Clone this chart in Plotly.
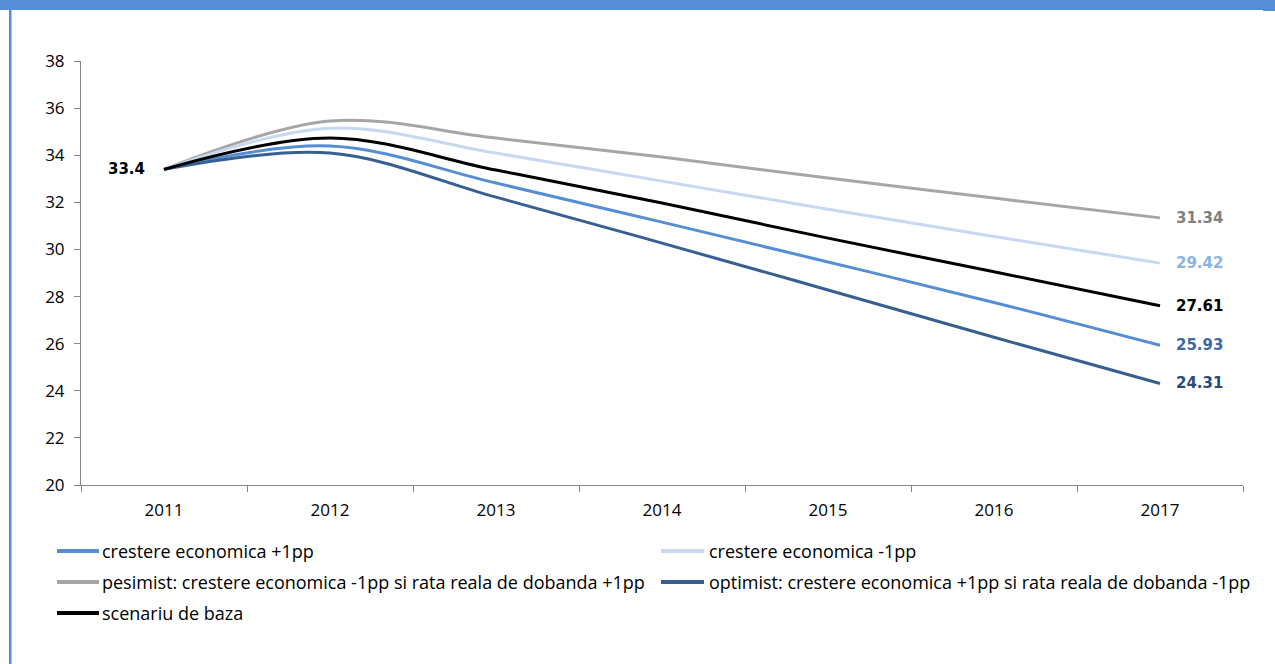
import plotly.graph_objects as go

# Years on the category axis
years = ["2011", "2012", "2013", "2014", "2015", "2016", "2017"]

# Debt ratio under each scenario
crestere_plus = [33.4, 34.39, 32.82, 31.16, 29.47, 27.75, 25.93]
crestere_minus = [33.4, 35.15, 34.09, 32.90, 31.71, 30.55, 29.42]
pesimist = [33.4, 35.45, 34.73, 33.92, 33.03, 32.18, 31.34]
optimist = [33.4, 34.09, 32.22, 30.27, 28.28, 26.27, 24.31]
baza = [33.4, 34.73, 33.37, 31.97, 30.48, 29.05, 27.61]

names = [
    "crestere economica +1pp",
    "crestere economica -1pp",
    "pesimist: crestere economica -1pp si rata reala de dobanda +1pp",
    "optimist: crestere economica +1pp si rata reala de dobanda -1pp",
    "scenariu de baza",
]
series = [crestere_plus, crestere_minus, pesimist, optimist, baza]
line_colors = ["#558ed5", "#c6d9f1", "#a6a6a6", "#376092", "#000000"]
label_colors = ["#3d67a6", "#8db3e2", "#808080", "#2a4a78", "#000000"]

y_ticks = [20, 22, 24, 26, 28, 30, 32, 34, 36, 38]

W, H = 1275, 664
L, R, T, B = 81, 1243, 61, 485


def px_x(px):
    return (px - L) / (R - L)


def px_y(py):
    return (B - py) / (B - T)


fig = go.Figure()

# draw order: lighter scenarios underneath, baseline on top
draw_order = [2, 1, 0, 3, 4]
for i in draw_order:
    fig.add_trace(go.Scatter(
        x=years, y=series[i], name=names[i], mode="lines",
        line=dict(color=line_colors[i], width=3, shape="spline", smoothing=1.0),
        showlegend=False, hoverinfo="x+y+name",
    ))

annotations = []

# starting value, shared by every scenario
annotations.append(dict(
    x=0, y=baza[0], xref="x", yref="y", text=f"<b>{baza[0]:.1f}</b>",
    showarrow=False, xanchor="right", yanchor="middle", xshift=-17,
    font=dict(family="DejaVu Sans", size=15, color="#000000"),
))
# end-of-horizon values
for vals, col in zip(series, label_colors):
    annotations.append(dict(
        x=len(years) - 1, y=vals[-1], xref="x", yref="y",
        text=f"<b>{vals[-1]:.2f}</b>",
        showarrow=False, xanchor="left", yanchor="middle", xshift=14,
        font=dict(family="DejaVu Sans", size=15, color=col),
    ))

shapes = []
# legend drawn as two columns
legend_font = dict(family="Open Sans", size=18, color="#000000")
legend_pos = [
    (57, 99, 100, 551),
    (661, 704, 707, 551),
    (57, 99, 100, 582),
    (661, 704, 707, 582),
    (57, 99, 100, 613),
]
for (x0, x1, tx, yy), nm, col in zip(legend_pos, names, line_colors):
    shapes.append(dict(type="line", xref="paper", yref="paper",
                       x0=px_x(x0), x1=px_x(x1), y0=px_y(yy), y1=px_y(yy),
                       line=dict(color=col, width=4)))
    annotations.append(dict(x=px_x(tx), y=px_y(yy), xref="paper", yref="paper",
                            text=nm, showarrow=False, xanchor="left",
                            yanchor="middle", font=legend_font))

# frame: blue band on top and a thin blue rule on the left
frame_blue = "#558ed5"
shapes.append(dict(type="rect", xref="paper", yref="paper", layer="above",
                   x0=px_x(0), x1=px_x(1263), y0=px_y(10), y1=px_y(0),
                   fillcolor=frame_blue, line=dict(width=0)))
shapes.append(dict(type="rect", xref="paper", yref="paper", layer="above",
                   x0=px_x(1263), x1=px_x(1275), y0=px_y(11), y1=px_y(0),
                   fillcolor=frame_blue, line=dict(width=0)))
shapes.append(dict(type="rect", xref="paper", yref="paper", layer="above",
                   x0=px_x(9), x1=px_x(11.5), y0=px_y(664), y1=px_y(10),
                   fillcolor=frame_blue, line=dict(width=0)))

fig.update_layout(
    width=W, height=H,
    margin=dict(l=L, r=W - R, t=T, b=H - B, pad=0),
    paper_bgcolor="white", plot_bgcolor="white",
    showlegend=False,
    annotations=annotations,
    shapes=shapes,
    xaxis=dict(
        type="category", categoryorder="array", categoryarray=years,
        tickson="boundaries", ticks="outside", ticklen=6, tickcolor="#868686",
        showline=True, linecolor="#868686", linewidth=1,
        showgrid=False, zeroline=False, ticklabelstandoff=10,
        tickfont=dict(family="Open Sans", size=17, color="#000000"),
        range=[-0.5, len(years) - 0.5],
    ),
    yaxis=dict(
        range=[20, 38], tickvals=y_ticks, ticks="outside", ticklen=6,
        tickcolor="#868686", showline=True, linecolor="#868686", linewidth=1,
        showgrid=False, zeroline=False, ticklabelstandoff=6,
        tickfont=dict(family="Open Sans", size=17, color="#000000"),
    ),
)

fig.write_html("out.html")
